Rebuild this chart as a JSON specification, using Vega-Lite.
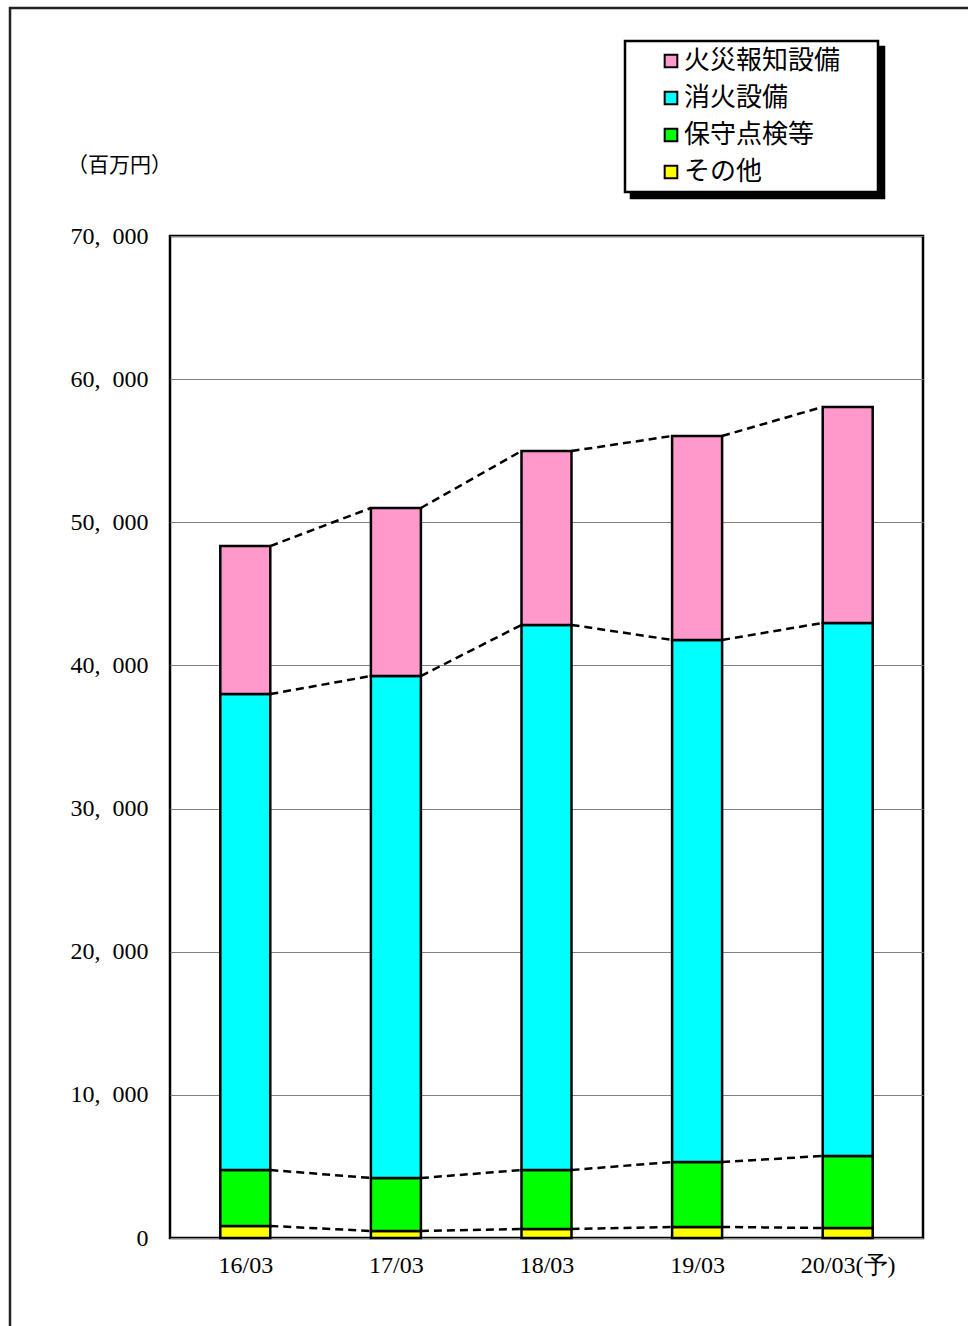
{
  "$schema": "https://vega.github.io/schema/vega-lite/v6.json",
  "autosize": {"type": "none"},
  "width": 753,
  "height": 1002,
  "padding": {"left": 170, "top": 236, "right": 45, "bottom": 88},
  "background": "white",
  "data": {
    "values": [
      {"year": "16/03", "category": "その他", "value": 840, "order": 1},
      {"year": "16/03", "category": "保守点検等", "value": 3910, "order": 2},
      {"year": "16/03", "category": "消火設備", "value": 33250, "order": 3},
      {"year": "16/03", "category": "火災報知設備", "value": 10340, "order": 4},
      {"year": "17/03", "category": "その他", "value": 490, "order": 1},
      {"year": "17/03", "category": "保守点検等", "value": 3700, "order": 2},
      {"year": "17/03", "category": "消火設備", "value": 35070, "order": 3},
      {"year": "17/03", "category": "火災報知設備", "value": 11740, "order": 4},
      {"year": "18/03", "category": "その他", "value": 630, "order": 1},
      {"year": "18/03", "category": "保守点検等", "value": 4120, "order": 2},
      {"year": "18/03", "category": "消火設備", "value": 38080, "order": 3},
      {"year": "18/03", "category": "火災報知設備", "value": 12150, "order": 4},
      {"year": "19/03", "category": "その他", "value": 770, "order": 1},
      {"year": "19/03", "category": "保守点検等", "value": 4540, "order": 2},
      {"year": "19/03", "category": "消火設備", "value": 36470, "order": 3},
      {"year": "19/03", "category": "火災報知設備", "value": 14250, "order": 4},
      {"year": "20/03(予)", "category": "その他", "value": 700, "order": 1},
      {"year": "20/03(予)", "category": "保守点検等", "value": 5030, "order": 2},
      {"year": "20/03(予)", "category": "消火設備", "value": 37240, "order": 3},
      {"year": "20/03(予)", "category": "火災報知設備", "value": 15090, "order": 4}
    ]
  },
  "transform": [
    {"stack": "value", "groupby": ["year"], "sort": [{"field": "order", "order": "ascending"}], "as": ["v0", "v1"]}
  ],
  "encoding": {
    "x": {
      "field": "year",
      "type": "nominal",
      "sort": null,
      "scale": {"paddingInner": 0.668, "paddingOuter": 0.334},
      "axis": {
        "title": null,
        "labelAngle": 0,
        "labelFont": "Liberation Serif",
        "labelFontSize": 24,
        "labelColor": "black",
        "labelPadding": 22,
        "domain": false,
        "ticks": true,
        "tickBand": "extent",
        "tickSize": -7,
        "tickColor": "#808080",
        "tickWidth": 1,
        "grid": false
      }
    }
  },
  "layer": [
    {
      "transform": [
        {"window": [{"op": "lead", "field": "v1", "as": "nv1"}, {"op": "lead", "field": "year", "as": "nyear"}], "groupby": ["category"], "sort": [{"field": "year", "order": "ascending"}]},
        {"filter": "datum.nyear != null"}
      ],
      "mark": {"type": "rule", "strokeWidth": 2.5, "strokeDash": [8, 5], "xOffset": 25, "x2Offset": -25},
      "encoding": {
        "x": {"field": "year", "type": "nominal", "sort": null},
        "x2": {"field": "nyear"},
        "y": {"field": "v1", "type": "quantitative"},
        "y2": {"field": "nv1"},
        "color": {
          "field": "category",
          "type": "nominal",
          "scale": {
            "domain": ["消火設備", "火災報知設備", "保守点検等", "その他"],
            "range": ["black", "black", "black", "black"]
          },
          "legend": {
            "orient": "none",
            "legendX": 461,
            "legendY": -189,
            "title": ".",
            "titleOrient": "right",
            "titleColor": "black",
            "titleFontSize": 2,
            "titlePadding": 186,
            "symbolType": "square",
            "symbolSize": 160,
            "symbolStrokeColor": "black",
            "symbolFillColor": "black",
            "symbolDash": [],
            "symbolStrokeWidth": 2,
            "symbolOffset": 26,
            "labelOffset": 0,
            "labelExpr": "'\u3000'",
            "labelFont": "Noto Sans CJK JP",
            "labelFontSize": 26,
            "labelColor": "black",
            "labelLimit": 400,
            "rowPadding": 11,
            "padding": 7,
            "strokeColor": "black",
            "fillColor": "black"
          }
        }
      }
    },
    {
      "transform": [{"calculate": "datum.category", "as": "cat"}],
      "mark": {"type": "bar", "stroke": "black", "strokeWidth": 2.5},
      "encoding": {
        "y": {
          "field": "v0",
          "type": "quantitative",
          "scale": {"domain": [0, 70000], "nice": false},
          "axis": {
            "values": [0, 10000, 20000, 30000, 40000, 50000, 60000, 70000],
            "labelExpr": "replace(format(datum.value, ','), ',', ',\u2002')",
            "labelFont": "Liberation Serif",
            "labelFontSize": 24,
            "labelColor": "black",
            "labelPadding": 22,
            "ticks": false,
            "domain": false,
            "grid": true,
            "gridColor": "#808080",
            "gridWidth": 1,
            "title": "（百万円）",
            "titleFont": "Noto Sans CJK JP",
            "titleFontSize": 21,
            "titleFontWeight": "normal",
            "titleColor": "black",
            "titleAngle": 0,
            "titleAlign": "center",
            "titleBaseline": "middle",
            "titleX": -51,
            "titleY": -71
          }
        },
        "y2": {"field": "v1"},
        "fill": {
          "field": "cat",
          "type": "nominal",
          "scale": {
            "domain": ["火災報知設備", "消火設備", "保守点検等", "その他"],
            "range": ["#FF99CC", "#00FFFF", "#00FF00", "#FFFF00"]
          },
          "legend": {
            "orient": "none",
            "legendX": 455,
            "legendY": -195,
            "title": ".",
            "titleOrient": "right",
            "titleColor": "white",
            "titleFontSize": 2,
            "titlePadding": 30,
            "symbolType": "square",
            "symbolSize": 160,
            "symbolStrokeColor": "black",
            "symbolStrokeWidth": 2,
            "symbolOffset": 26,
            "labelOffset": 0,
            "labelFont": "Noto Sans CJK JP",
            "labelFontSize": 26,
            "labelColor": "black",
            "labelLimit": 400,
            "rowPadding": 11,
            "padding": 7,
            "strokeColor": "black",
            "fillColor": "white"
          }
        },
        "opacity": {
          "field": "order",
          "type": "quantitative",
          "scale": {"range": [1, 1]},
          "legend": {
            "orient": "none",
            "legendX": -160,
            "legendY": -228,
            "title": null,
            "labelExpr": "''",
            "padding": 1400,
            "strokeColor": "#222222",
            "symbolOpacity": 0
          }
        }
      }
    }
  ],
  "config": {
    "view": {"stroke": "black", "strokeWidth": 2.5},
    "legend": {"strokeWidth": 2.5}
  }
}
